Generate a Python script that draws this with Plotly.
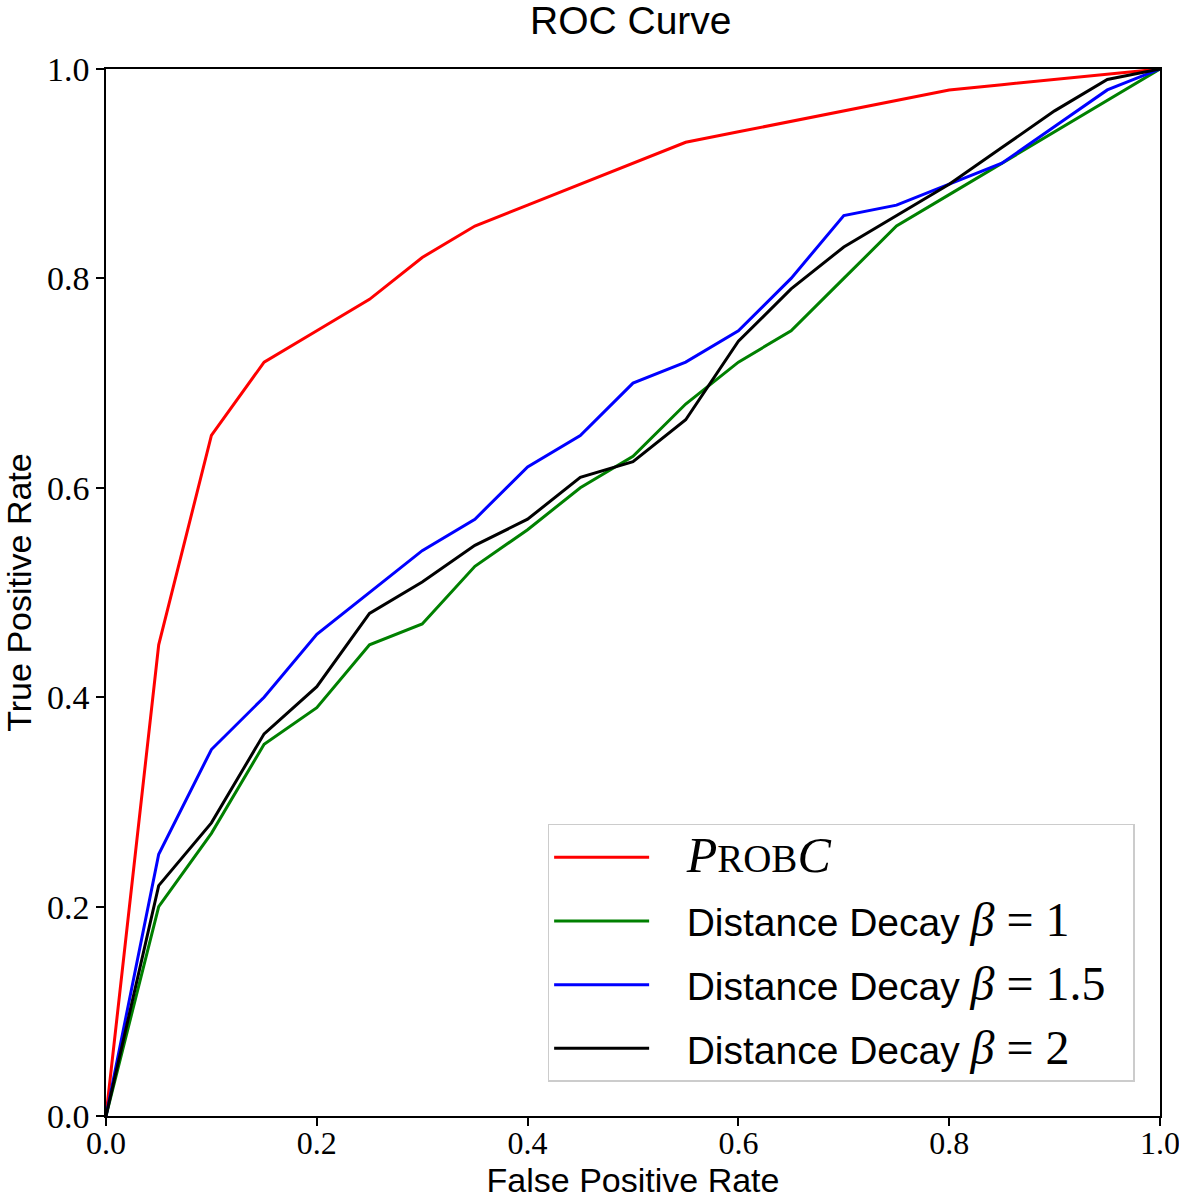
import plotly.graph_objects as go

fpr = [0.00, 0.05, 0.10, 0.15, 0.20, 0.25, 0.30, 0.35, 0.40, 0.45, 0.50,
       0.55, 0.60, 0.65, 0.70, 0.75, 0.80, 0.85, 0.90, 0.95, 1.00]

tpr_probc = [0.00, 0.45, 0.65, 0.72, 0.75, 0.78, 0.82, 0.85, 0.87, 0.89, 0.91,
             0.93, 0.94, 0.95, 0.96, 0.97, 0.98, 0.985, 0.99, 0.995, 1.00]
tpr_beta1 = [0.00, 0.20, 0.27, 0.355, 0.39, 0.45, 0.47, 0.525, 0.56, 0.60, 0.63,
             0.68, 0.72, 0.75, 0.80, 0.85, 0.88, 0.91, 0.94, 0.97, 1.00]
tpr_beta15 = [0.00, 0.25, 0.35, 0.40, 0.46, 0.50, 0.54, 0.57, 0.62, 0.65, 0.70,
              0.72, 0.75, 0.80, 0.86, 0.87, 0.89, 0.91, 0.945, 0.98, 1.00]
tpr_beta2 = [0.00, 0.22, 0.28, 0.365, 0.41, 0.48, 0.51, 0.545, 0.57, 0.61, 0.625,
             0.665, 0.74, 0.79, 0.83, 0.86, 0.89, 0.925, 0.96, 0.99, 1.00]

tick_vals = [0.0, 0.2, 0.4, 0.6, 0.8, 1.0]
tick_text = ["0.0", "0.2", "0.4", "0.6", "0.8", "1.0"]

SERIF = "Liberation Serif"
SANS = "Liberation Sans"
PAD = "\u00a0\u00a0\u00a0"
END = "\u00a0\u00a0"
MATH = f"font-family:{SERIF};font-size:48px"

names = [
    f"{PAD}<span style='{MATH};font-size:50px'><i>P</i></span>"
    f"<span style='font-family:{SERIF};font-size:39px'>ROB</span>"
    f"<span style='{MATH};font-size:50px'><i>C</i></span>{END}",
    f"{PAD}Distance Decay <span style='{MATH}'><i>β</i> = 1</span>{END}",
    f"{PAD}Distance Decay <span style='{MATH}'><i>β</i> = 1.5</span>{END}",
    f"{PAD}Distance Decay <span style='{MATH}'><i>β</i> = 2</span>{END}",
]
series = [tpr_probc, tpr_beta1, tpr_beta15, tpr_beta2]
colors = ["#ff0000", "#008000", "#0000ff", "#000000"]

fig = go.Figure()
for i, (nm, ys, c) in enumerate(zip(names, series, colors)):
    fig.add_trace(go.Scatter(x=fpr, y=ys, mode="lines", name=nm, legendgroup=f"g{i}",
                             line=dict(color=c, width=3)))

axis_common = dict(
    range=[0, 1], tickvals=tick_vals, ticktext=tick_text,
    ticks="outside", ticklen=8, tickwidth=1.5, tickcolor="black",
    showline=True, linecolor="black", linewidth=1.5, mirror=True,
    showgrid=False, zeroline=False, automargin=False,
    ticklabeloverflow="allow",
)

fig.update_layout(
    width=1179, height=1201,
    margin=dict(l=106, r=19, t=69, b=85),
    paper_bgcolor="white", plot_bgcolor="white",
    title=dict(text="ROC Curve", x=0.535, xanchor="center", y=0.983, yanchor="middle",
               font=dict(family=SANS, size=39, color="black")),
    xaxis=dict(**axis_common, ticklabelstandoff=-10,
               tickfont=dict(family=SERIF, size=32, color="black"),
               title=dict(text="False Positive Rate", standoff=0,
                          font=dict(family=SANS, size=34, color="black"))),
    yaxis=dict(**axis_common,
               tickfont=dict(family=SERIF, size=34, color="black"),
               title=dict(text="True Positive Rate", standoff=10,
                          font=dict(family=SANS, size=34, color="black"))),
    legend=dict(x=0.419, y=0.279, xanchor="left", yanchor="top",
                bgcolor="rgba(255,255,255,0.8)", bordercolor="#cccccc", borderwidth=1.5,
                font=dict(family=SANS, size=39, color="black"),
                itemwidth=95, tracegroupgap=10),
    showlegend=True,
)

fig.write_html("out.html", config={"displayModeBar": False},
               post_script="document.body.style.margin='0';document.body.style.overflow='hidden';")
